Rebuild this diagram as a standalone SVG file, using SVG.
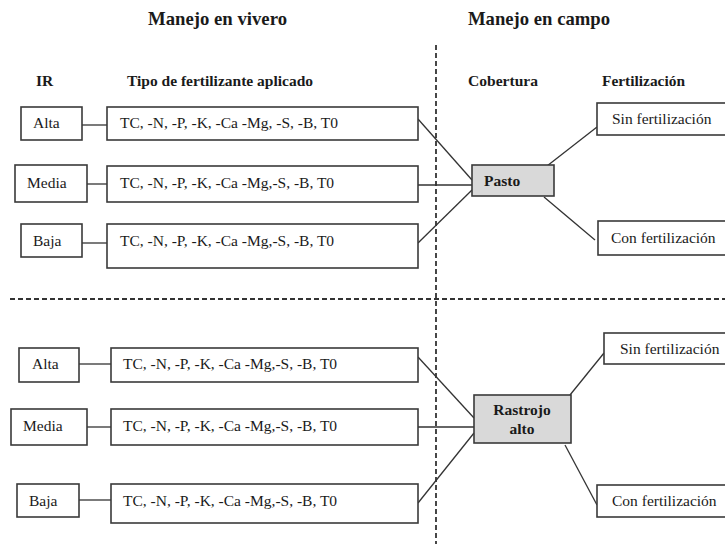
<svg xmlns="http://www.w3.org/2000/svg" width="725" height="544" viewBox="0 0 725 544" font-family="'Liberation Serif', 'Times New Roman', Tinos, 'DejaVu Serif', serif">
<style>
  text { font-family: 'Liberation Serif', 'Times New Roman', Tinos, 'DejaVu Serif', serif; fill: #1a1a1a; }
  .h1 { font-size: 19.5px; font-weight: bold; }
  .h2 { font-size: 15.5px; font-weight: bold; }
  .t { font-size: 15.5px; }
  .tb { font-size: 15.5px; font-weight: bold; }
  .box { fill: #ffffff; stroke: #3a3a3a; stroke-width: 1.6; }
  .gbox { fill: #d9d9d9; stroke: #3a3a3a; stroke-width: 1.6; }
  .conn line { stroke: #333333; stroke-width: 1.3; }
  .dash { stroke: #333333; stroke-width: 1.8; stroke-dasharray: 5 3; fill: none; }
</style>
<rect width="725" height="544" fill="#ffffff"/>

<g id="headers">
  <text class="h1" x="148" y="25" textLength="139" lengthAdjust="spacingAndGlyphs">Manejo en vivero</text>
  <text class="h1" x="468" y="25" textLength="142" lengthAdjust="spacingAndGlyphs">Manejo en campo</text>
  <text class="h2" x="36" y="86">IR</text>
  <text class="h2" x="127" y="86" textLength="186" lengthAdjust="spacingAndGlyphs">Tipo de fertilizante aplicado</text>
  <text class="h2" x="468" y="86" textLength="70" lengthAdjust="spacingAndGlyphs">Cobertura</text>
  <text class="h2" x="602" y="86" textLength="83" lengthAdjust="spacingAndGlyphs">Fertilización</text>
</g>

<g id="dividers">
  <line class="dash" x1="436" y1="45" x2="436" y2="544"/>
  <line class="dash" x1="10" y1="299" x2="725" y2="299"/>
</g>

<g id="connectors" class="conn">
  <line x1="82" y1="125" x2="107" y2="125"/>
  <line x1="87" y1="184" x2="107" y2="184"/>
  <line x1="82" y1="243" x2="107" y2="243"/>
  <line x1="418" y1="119" x2="472" y2="180"/>
  <line x1="418" y1="185" x2="472" y2="185"/>
  <line x1="418" y1="243" x2="472" y2="190"/>
  <line x1="547" y1="166" x2="597" y2="127"/>
  <line x1="544" y1="197" x2="595" y2="240"/>
  <line x1="79" y1="364" x2="111" y2="364"/>
  <line x1="87" y1="427" x2="111" y2="427"/>
  <line x1="79" y1="500" x2="111" y2="500"/>
  <line x1="418" y1="357" x2="474" y2="418"/>
  <line x1="418" y1="427" x2="474" y2="427"/>
  <line x1="418" y1="503" x2="474" y2="433"/>
  <line x1="570" y1="395" x2="604" y2="353"/>
  <line x1="565" y1="445" x2="597" y2="505"/>
</g>

<g id="ir-alta-1"><rect class="box" x="21" y="107" width="61" height="33"/><text class="t" x="33" y="128">Alta</text></g>
<g id="ir-media-1"><rect class="box" x="15" y="165" width="72" height="37"/><text class="t" x="27" y="188">Media</text></g>
<g id="ir-baja-1"><rect class="box" x="21" y="224" width="61" height="33"/><text class="t" x="33" y="246">Baja</text></g>

<g id="fert-alta-1"><rect class="box" x="107" y="107" width="311" height="33"/><text class="t" x="120" y="128">TC, -N, -P, -K, -Ca -Mg, -S, -B, T0</text></g>
<g id="fert-media-1"><rect class="box" x="107" y="166" width="311" height="36"/><text class="t" x="120" y="188">TC, -N, -P, -K, -Ca -Mg,-S, -B, T0</text></g>
<g id="fert-baja-1"><rect class="box" x="107" y="224" width="311" height="44"/><text class="t" x="120" y="246">TC, -N, -P, -K, -Ca -Mg,-S, -B, T0</text></g>

<g id="pasto"><rect class="gbox" x="472" y="165" width="82" height="31"/><text class="tb" x="484" y="186">Pasto</text></g>
<g id="sin-1"><rect class="box" x="597" y="103" width="133" height="32"/><text class="t" x="612" y="124">Sin fertilización</text></g>
<g id="con-1"><rect class="box" x="598" y="221" width="132" height="34"/><text class="t" x="611" y="243">Con fertilización</text></g>

<g id="ir-alta-2"><rect class="box" x="19" y="348" width="60" height="34"/><text class="t" x="32" y="369">Alta</text></g>
<g id="ir-media-2"><rect class="box" x="11" y="409" width="76" height="36"/><text class="t" x="23" y="431">Media</text></g>
<g id="ir-baja-2"><rect class="box" x="17" y="484" width="62" height="33"/><text class="t" x="29" y="506">Baja</text></g>

<g id="fert-alta-2"><rect class="box" x="111" y="348" width="307" height="34"/><text class="t" x="123" y="369">TC, -N, -P, -K, -Ca -Mg,-S, -B, T0</text></g>
<g id="fert-media-2"><rect class="box" x="111" y="409" width="307" height="36"/><text class="t" x="123" y="431">TC, -N, -P, -K, -Ca -Mg,-S, -B, T0</text></g>
<g id="fert-baja-2"><rect class="box" x="111" y="484" width="307" height="39"/><text class="t" x="123" y="506">TC, -N, -P, -K, -Ca -Mg,-S, -B, T0</text></g>

<g id="rastrojo"><rect class="gbox" x="474" y="395" width="97" height="48"/><text class="tb" x="522" y="415" text-anchor="middle">Rastrojo</text><text class="tb" x="522" y="434" text-anchor="middle">alto</text></g>
<g id="sin-2"><rect class="box" x="604" y="333" width="126" height="31"/><text class="t" x="620" y="354">Sin fertilización</text></g>
<g id="con-2"><rect class="box" x="597" y="485" width="133" height="32"/><text class="t" x="612" y="506">Con fertilización</text></g>
</svg>
